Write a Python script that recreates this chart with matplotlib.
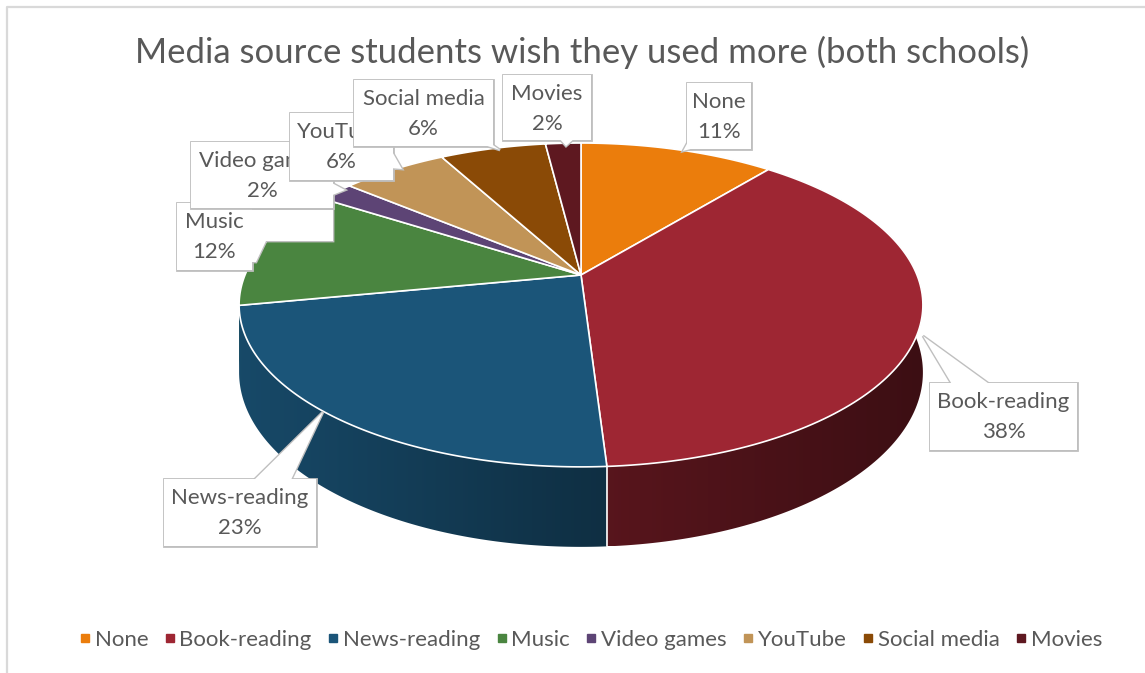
import numpy as np
import matplotlib
matplotlib.use("Agg")
import matplotlib.pyplot as plt
from matplotlib.patches import Polygon, Rectangle
from matplotlib.lines import Line2D

plt.rcParams["font.family"] = ["Lato", "DejaVu Sans"]

# data
categories = ["None", "Book-reading", "News-reading", "Music",
              "Video games", "YouTube", "Social media", "Movies"]
shares = [11, 38, 23, 12, 2, 6, 6, 2]
colors = ["#EB7D0C", "#9E2633", "#1B5579", "#4A8540",
          "#5D4475", "#C19457", "#8A4A06", "#5E1820"]

TXT = "#595959"
EDGE = "#BFBFBF"
FS = 16

# pie geometry in pixel units (perspective tilt)
CX, CY = 581.0, 275.0
A_RAD = 336.0
E_PERSP, G_PERSP = 105.5, -0.185
DEPTH = 65.2


def project(theta, bottom=False):
    # theta in degrees, clockwise from the far (top) point
    t = np.radians(theta)
    u, v = np.sin(t), -np.cos(t)
    w = 1 + G_PERSP * v
    x = CX + A_RAD * u / w
    y = (E_PERSP * v + CY) / w + (DEPTH / w if bottom else 0)
    return x, y


def wall_shade(x):
    # light comes from the left, the right-hand wall is darkest
    return np.interp(x, [240, 582, 923], [0.86, 0.57, 0.38])


fig = plt.figure(figsize=(11.45, 6.73), dpi=100)
ax = fig.add_axes([0, 0, 1, 1])
ax.set_xlim(0, 1145)
ax.set_ylim(673, 0)
ax.axis("off")

# chart border
ax.plot([6.5, 6.5, 1150], [680, 7, 7], color="#D9D9D9", lw=1.6, zorder=0)

total = float(sum(shares))
bounds = np.concatenate([[0], np.cumsum(shares)]) / total * 360

# side walls: one outline per slice filled with a horizontal gradient,
# far slices first so the front walls end up on top
mid_depth = [-np.cos(np.radians(0.5 * (bounds[i] + bounds[i + 1])))
             for i in range(len(shares))]
for k, i in enumerate(np.argsort(mid_depth)):
    c = colors[i]
    th = np.linspace(bounds[i], bounds[i + 1], 150)
    top = [project(t) for t in th]
    bot = [project(t, True) for t in th[::-1]]
    wall = Polygon(top + bot, closed=True, facecolor="none", edgecolor="none")
    ax.add_patch(wall)
    xs = np.array([p[0] for p in top + bot])
    ys = np.array([p[1] for p in top + bot])
    cols = np.linspace(xs.min(), xs.max(), 200)
    rgb = np.array(matplotlib.colors.to_rgb(c))
    grad = (wall_shade(cols)[:, None] * rgb[None, :])[None, :, :]
    im = ax.imshow(grad, extent=(xs.min(), xs.max(), ys.max(), ys.min()),
                   aspect="auto", interpolation="bilinear", zorder=1 + 0.01 * k)
    im.set_clip_path(wall)

# white seams on the visible front wall
for b in bounds:
    if 150 < b % 360 < 255:
        xt, yt = project(b)
        xb, yb = project(b, True)
        ax.plot([xt, xb], [yt, yb], color="white", lw=1.2, zorder=2)

# top faces
for i, c in enumerate(colors):
    th = np.linspace(bounds[i], bounds[i + 1], 120)
    pts = [(CX, CY)] + [project(t) for t in th]
    ax.add_patch(Polygon(pts, closed=True, facecolor=c, edgecolor="white",
                         lw=1.2, joinstyle="round", zorder=3))

# data label callouts: box corners and pointer shapes
label_layout = {
    "None": ((687, 83, 751, 149), [(689, 140), (683, 151), (702, 146)]),
    "Book-reading": ((930, 383, 1077, 450), [(953, 386), (923, 336), (992, 386)]),
    "News-reading": ((164, 479, 316, 546), [(252, 482), (323, 412), (290, 482)]),
    "Music": ((177, 203, 252, 270), [(248, 210), (333, 210), (333, 241),
                                     (266, 241), (256, 262), (248, 262)]),
    "Video games": ((191, 142, 333, 208), [(330, 182), (345, 190), (330, 196)]),
    "YouTube": ((290, 113, 393, 180), [(390, 148), (402, 169), (390, 168)]),
    "Social media": ((354, 80, 493, 146), [(478, 143), (500, 150), (490, 143)]),
    "Movies": ((503, 75, 591, 140), [(558, 137), (566, 146), (576, 137)]),
}

for i, (cat, val) in enumerate(zip(categories, shares)):
    (x0, y0, x1, y1), tail = label_layout[cat]
    z = 10 + 2 * i
    shapes = [lambda: Rectangle((x0, y0), x1 - x0, y1 - y0),
              lambda: Polygon(tail, closed=True)]
    for mk in shapes:
        p = mk()
        p.set(facecolor="none", edgecolor=EDGE, lw=2.0, zorder=z)
        ax.add_patch(p)
    for mk in shapes:
        p = mk()
        p.set(facecolor="white", edgecolor="none", zorder=z + 0.5)
        ax.add_patch(p)
    xm, ym = 0.5 * (x0 + x1), 0.5 * (y0 + y1)
    ax.text(xm, ym - 14, cat, ha="center", va="center", fontsize=FS,
            color=TXT, zorder=z + 0.8)
    ax.text(xm, ym + 16, f"{val}%", ha="center", va="center", fontsize=FS,
            color=TXT, zorder=z + 0.8)

ax.text(582, 52, "Media source students wish they used more (both schools)",
        ha="center", va="center", fontsize=25, color=TXT)

handles = [Line2D([], [], marker="s", ls="none", markersize=6,
                  markerfacecolor=c, markeredgecolor=c) for c in colors]
leg = fig.legend(handles, categories, loc="center", ncol=len(categories),
                 bbox_to_anchor=(591 / 1145, 1 - 640 / 673), frameon=False,
                 fontsize=FS, handlelength=0.45, handletextpad=0.2,
                 columnspacing=0.75)
for t in leg.get_texts():
    t.set_color(TXT)

fig.savefig("out.png", dpi=100, facecolor="white")
